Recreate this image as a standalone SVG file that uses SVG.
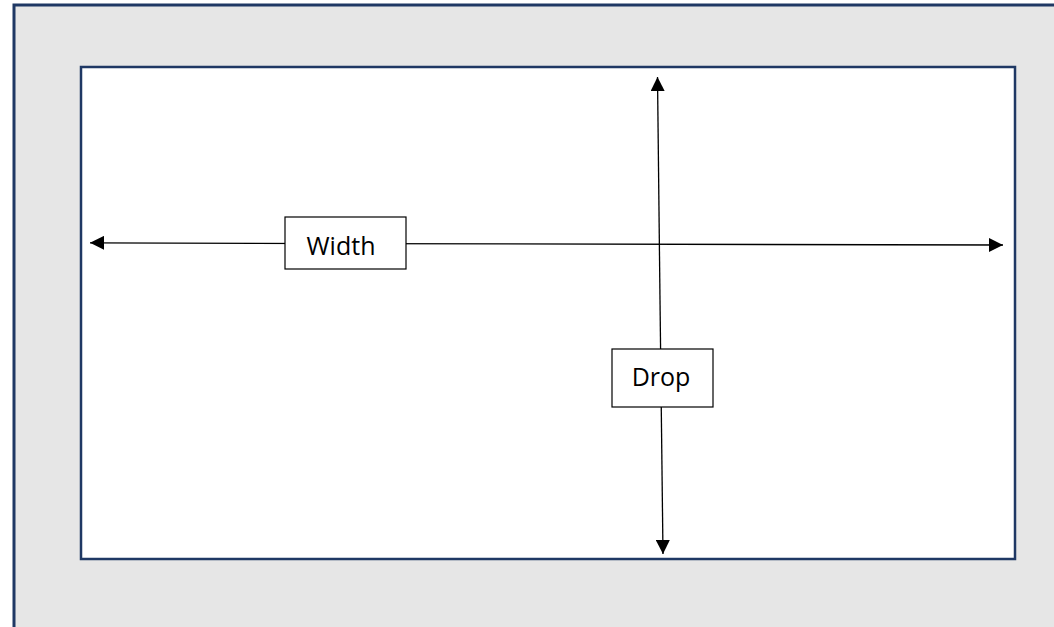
<svg xmlns="http://www.w3.org/2000/svg" width="1054" height="627" viewBox="0 0 1054 627">
<style>
.frame{fill:#E6E6E6;stroke:#1F3864;stroke-width:3}
.inner{fill:#FFFFFF;stroke:#1F3864;stroke-width:2.5}
.conn{stroke:#000;stroke-width:1.3;fill:none}
.box{fill:#FFFFFF;stroke:#000;stroke-width:1.2}
.lbl{font-family:"Open Sans","Liberation Sans",sans-serif;font-size:25px;fill:#000;text-anchor:middle}
</style>
<defs>
<marker id="ah" viewBox="0 0 10 10" refX="10" refY="5" markerWidth="15" markerHeight="14" markerUnits="userSpaceOnUse" orient="auto">
<path d="M0,0 L10,5 L0,10 z" fill="#000"/>
</marker>
</defs>
<rect class="frame" x="14" y="5" width="1060" height="640"/>
<rect class="inner" x="81" y="67" width="934" height="492"/>
<g id="connectors">
<line class="conn" x1="345" y1="243.6" x2="90" y2="242.8" marker-end="url(#ah)"/>
<line class="conn" x1="345" y1="243.6" x2="1003" y2="245" marker-end="url(#ah)"/>
<line class="conn" x1="660" y1="300" x2="657.5" y2="77" marker-end="url(#ah)"/>
<line class="conn" x1="660" y1="300" x2="663" y2="554" marker-end="url(#ah)"/>
</g>
<g id="width">
<rect class="box" x="285" y="217" width="121" height="52"/>
<text class="lbl" x="341" y="255">Width</text>
</g>
<g id="drop">
<rect class="box" x="612" y="349" width="101" height="58"/>
<text class="lbl" x="661" y="386">Drop</text>
</g>
</svg>
